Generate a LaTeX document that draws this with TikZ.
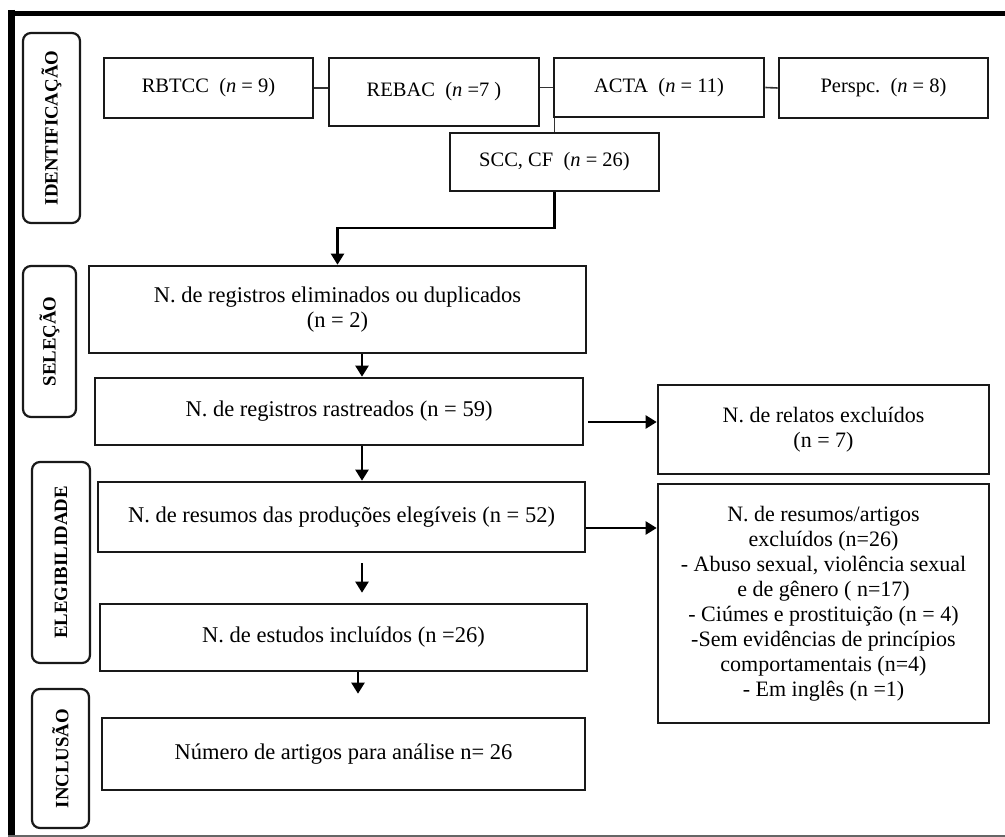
\documentclass[tikz,border=0pt]{standalone}
\usepackage{fontspec}
\setmainfont{Liberation Serif}
\usetikzlibrary{arrows.meta}

\begin{document}
\begin{tikzpicture}[x=1pt,y=-1pt,
	fonte/.style={draw=black!90, line width=2.6pt, inner sep=0pt, font=\fontsize{20.5}{24}\selectfont},
	caixa/.style={draw=black!90, line width=2.6pt, inner sep=0pt, align=center, font=\fontsize{22.5}{25}\selectfont},
	etapa/.style={draw=black!90, line width=2.2pt, rounded corners=8pt, rotate=90, inner sep=0pt, font=\bfseries\fontsize{18.8}{20}\selectfont},
	liga/.style={black!80, line width=1.6pt},
	seta/.style={black, line width=2.2pt, -{Triangle[length=11pt,width=13pt]}}]
		\useasboundingbox (0,0) rectangle (1005,837);
		\fill[white] (0,0) rectangle (1005,837);

		\draw[line width=7pt] (11.5,10) -- (11.5,837);
		\draw[line width=5.5pt] (8,13.5) -- (1005,13.5);
		\draw[black!60, line width=2pt] (8,836) -- (1005,836);

		\node[etapa, minimum width=190pt, minimum height=57pt] (ident) at (51.5,128) {IDENTIFICAÇÃO};
		\node[etapa, minimum width=151pt, minimum height=53pt] (selec) at (49.5,341.5) {SELEÇÃO};
		\node[etapa, minimum width=201pt, minimum height=58pt] (elegib) at (61,562.5) {ELEGIBILIDADE};
		\node[etapa, minimum width=139pt, minimum height=57pt] (inclus) at (60.5,758.5) {INCLUSÃO};

		\node[fonte, minimum width=209pt, minimum height=60pt] (rbtcc) at (208.5,88) {RBTCC\ \ (\textit{n} = 9)};
		\node[fonte, minimum width=210pt, minimum height=68pt] (rebac) at (434,92) {REBAC\ \ (\textit{n} =7 )};
		\node[fonte, minimum width=210pt, minimum height=59pt] (acta) at (659,87.5) {ACTA\ \ (\textit{n} = 11)};
		\node[fonte, minimum width=209pt, minimum height=60pt] (persp) at (883.5,88) {Perspc.\ \ (\textit{n} = 8)};
		\node[fonte, minimum width=209pt, minimum height=58pt] (scc) at (554.5,162) {SCC, CF\ \ (\textit{n} = 26)};

		\node[caixa, minimum width=497pt, minimum height=87pt] (dup) at (337.5,309.5) {N. de registros eliminados ou duplicados\\(n = 2)};
		\node[caixa, minimum width=488pt, minimum height=67pt] (rastr) at (339,411.5) {N. de registros rastreados (n = 59)};
		\node[caixa, minimum width=487pt, minimum height=70pt] (eleg) at (341.5,517) {N. de resumos das produções elegíveis (n = 52)};
		\node[caixa, minimum width=487pt, minimum height=67pt] (incl) at (343.5,637.5) {N. de estudos incluídos (n =26)};
		\node[caixa, minimum width=483pt, minimum height=72pt] (anal) at (343.5,754) {Número de artigos para análise n= 26};
		\node[caixa, minimum width=331pt, minimum height=89pt, font=\fontsize{22}{25}\selectfont] (relat) at (823.5,429.5) {N. de relatos excluídos\\(n = 7)};
		\node[caixa, minimum width=331pt, minimum height=239pt, font=\fontsize{22}{25}\selectfont] (excl) at (823.5,603.5) {N. de resumos/artigos\\excluídos (n=26)\\- Abuso sexual, violência sexual\\e de gênero ( n=17)\\- Ciúmes e prostituição (n = 4)\\-Sem evidências de princípios\\comportamentais (n=4)\\- Em inglês (n =1)};

		\draw[liga] (rbtcc.east) -- (rbtcc.east -| rebac.west);
		\draw[liga] (acta.west -| rebac.east) -- (acta.west);
		\draw[liga] (acta.east) -- (persp.west);
		\draw[liga] (scc.north) -- (scc.north |- acta.south);

		\coordinate (dobra) at (0,228);
		\coordinate (eixo) at (362,0);
		\coordinate (eixob) at (358,0);
		\coordinate (nivela) at (0,422);
		\coordinate (nivelb) at (0,528);
		\draw[seta] (scc.south) -- (scc.south |- dobra) -| (dup.north);
		\draw[seta] (dup.south -| eixo) -- (rastr.north -| eixo);
		\draw[seta] (rastr.south -| eixo) -- (eleg.north -| eixo);
		\draw[seta, shorten <=10pt, shorten >=10pt] (eleg.south -| eixo) -- (incl.north -| eixo);
		\draw[seta, shorten >=23pt] (incl.south -| eixob) -- (anal.north -| eixob);
		\draw[seta, shorten <=4pt] (rastr.east |- nivela) -- (relat.west |- nivela);
		\draw[seta] (eleg.east |- nivelb) -- (excl.west |- nivelb);
	\end{tikzpicture}
\end{document}
